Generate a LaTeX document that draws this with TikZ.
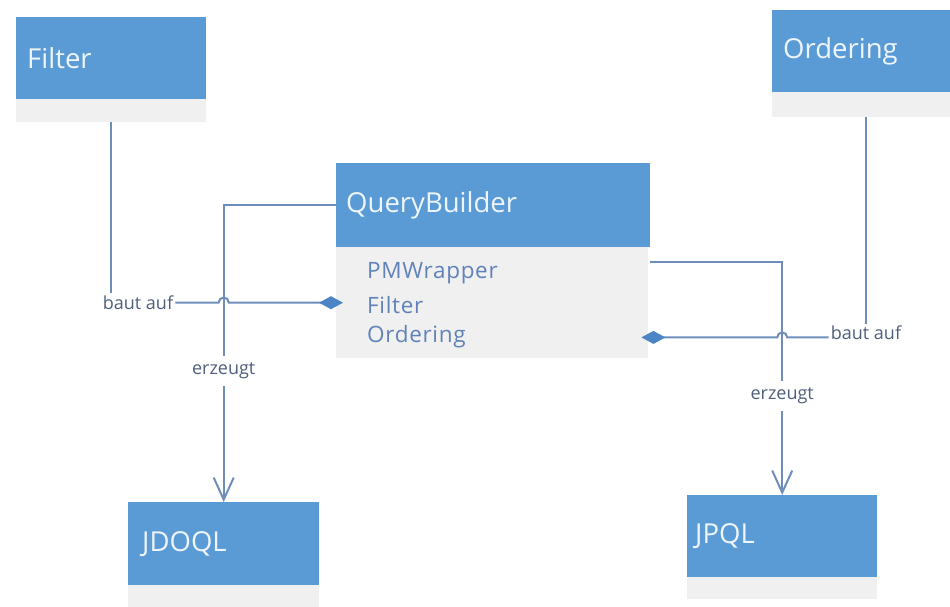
\documentclass[tikz,border=0pt]{standalone}
\usepackage{fontspec}
\setmainfont{Open Sans}
\newfontfamily\attfont[LetterSpace=3]{Open Sans}
\usetikzlibrary{arrows.meta,calc}
\definecolor{hblue}{HTML}{5B9BD5}
\definecolor{lgray}{HTML}{F0F0F0}
\definecolor{lnc}{HTML}{6E8DBA}
\definecolor{labc}{HTML}{4F5F7B}
\definecolor{attc}{HTML}{5F82B8}
\definecolor{hdrtxt}{HTML}{EEF5FC}
\definecolor{diac}{HTML}{4C85C6}
\begin{document}
\begin{tikzpicture}[x=1pt,y=-1pt,
 hdr/.style={fill=hblue, text=hdrtxt, font=\fontsize{27.5}{30}\selectfont, anchor=north west, inner xsep=11pt, inner ysep=0pt, align=left},
 gry/.style={fill=lgray, anchor=north west, inner sep=0pt},
 lbl/.style={font=\fontsize{18}{20}\selectfont, text=labc, inner xsep=2pt, inner ysep=2pt},
 att/.style={font=\attfont\fontsize{22.5}{24}\selectfont, text=attc, anchor=west, inner sep=0pt},
 conn/.style={draw=lnc, line width=2pt},
 dia/.style={-{Diamond[length=24pt,width=13pt,color=diac]}, shorten >=-7pt},
 barb/.style={-{Straight Barb[length=22pt,width=20pt]}},
]
\useasboundingbox (0,0) rectangle (950,606);
\clip (0,0) rectangle (950,606);

% boxes
\node[gry, minimum width=190pt, minimum height=23pt] (filterg) at (16,99) {};
\node[hdr, text width=168pt, minimum height=82pt] (filter) at (16,17) {Filter};

\node[gry, minimum width=188pt, minimum height=25pt] (ordg) at (772,92) {};
\node[hdr, text width=166pt, minimum height=82pt] (ord) at (772,10) {Ordering};

\node[gry, minimum width=312pt, minimum height=111pt] (qbg) at (336,247) {};
\node[hdr, inner xsep=10pt, text width=294pt, minimum height=84pt] (qb) at (336,163) {QueryBuilder};
\node[att] (a1) at (367,273) {PMWrapper};
\node[att] (a2) at (367,305) {Filter};
\node[att] (a3) at (367,337) {Ordering};

\node[gry, minimum width=191pt, minimum height=25pt] (jdoqlg) at (128,585) {};
\node[hdr, inner xsep=14pt, text width=163pt, minimum height=83pt] (jdoql) at (128,502) {JDOQL};

\node[gry, minimum width=190pt, minimum height=22pt] (jpqlg) at (687,577) {};
\node[hdr, inner xsep=8pt, text width=174pt, minimum height=82pt] (jpql) at (687,495) {JPQL};

% labels
\node[lbl] (bl) at (138,302.5) {baut auf};
\node[lbl] (br) at (866,333) {baut auf};
\node[lbl, inner ysep=7pt] (e1) at ($(jdoql.north)+(0,-131)$) {erzeugt};
\node[lbl, inner ysep=7pt] (e2) at ($(jpql.north)+(0,-99)$) {erzeugt};
\coordinate (rj) at ($(qbg.south east)+(0,-21)$);

% QueryBuilder -> JDOQL
\draw[conn] (qb.west) -| (e1.north);
\draw[conn, barb] (e1.south) -- (jdoql.north);

% QueryBuilder -> JPQL
\draw[conn] ($(qbg.north east)+(2,15)$) -| (e2.north);
\draw[conn, barb] (e2.south) -- (jpql.north);

% Filter -> QueryBuilder
\draw[conn] (filterg.south) -- (filterg.south |- bl.north);
\draw[conn, dia] (bl.east) -- ($(jdoql.north |- bl.east)+(-5,0)$) arc[start angle=180, end angle=0, radius=5pt] -- (qbg.west);

% Ordering -> QueryBuilder
\draw[conn] (ordg.south) -- (ordg.south |- br.north);
\draw[conn, dia] (br.west |- rj) -- ($(jpql.north |- rj)+(5,0)$) arc[start angle=0, end angle=180, radius=5pt] -- (rj);
\end{tikzpicture}
\end{document}
